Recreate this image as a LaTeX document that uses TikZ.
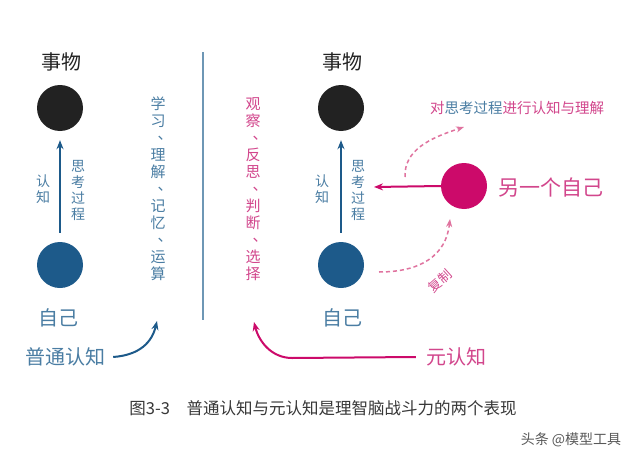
\documentclass[tikz,border=0pt]{standalone}
\usepackage{fontspec}
\setmainfont{Noto Sans CJK SC}
\usetikzlibrary{arrows.meta}
\definecolor{cblue}{HTML}{1D5A8A}
\definecolor{tblue}{HTML}{4A7DA3}
\definecolor{cpink}{HTML}{CC0A6A}
\definecolor{tpink}{HTML}{D2468C}
\definecolor{dpink}{HTML}{E0739F}
\definecolor{cblack}{HTML}{222222}
% 竖排顿号
\newcommand{\vdun}{\raisebox{4pt}{\kern7pt 、\kern-7pt}}
\begin{document}
\begin{tikzpicture}[x=1pt, y=-1pt,
    dot/.style={circle, minimum size=46pt, inner sep=0pt},
    vtext/.style={align=center, inner sep=0pt, font=\fontsize{15}{17}\selectfont},
    stext/.style={align=center, inner sep=0pt, font=\fontsize{14}{16}\selectfont},
    label/.style={inner sep=0pt, font=\fontsize{20}{22}\selectfont},
    bluearrow/.style={-{Stealth[length=9pt, width=7pt]}, line width=2pt, cblue},
    pinkarrow/.style={-{Stealth[length=9pt, width=7pt]}, line width=2pt, cpink},
    dasharrow/.style={-{Stealth[length=8pt, width=6pt]}, line width=1.5pt, dpink, dash pattern=on 4pt off 3pt}]
    \useasboundingbox[fill=white] (0,0) rectangle (640,463);

    % 普通认知
    \node[label, cblack] (thingL) at (61,62) {事物};
    \node[dot, fill=cblack] (blackL) at (60,108) {};
    \node[dot, fill=cblue] (selfL) at (60,265) {};
    \node[label, tblue] (meL) at (58,318) {自己};
    \draw[bluearrow, shorten <=9pt, shorten >=9pt] (selfL) -- (blackL);
    \node[stext, tblue] (knowL) at (43,189) {认\\知};
    \node[stext, tblue] (procL) at (78,190) {思\\考\\过\\程};
    \node[vtext, tblue] (listL) at (158,189) {学\\习\\\vdun\\理\\解\\\vdun\\记\\忆\\\vdun\\运\\算};
    \node[label, tblue] (plain) at (65,357) {普通认知};
    \coordinate (plainTip) at (157,321);
    \draw[line width=2pt, cblue, -{Stealth[length=9pt, width=7pt]}] ([xshift=8pt]plain.east) .. controls (140,355) and (152,342) .. (plainTip);

    % 分隔线
    \draw[line width=1.5pt, tblue!80] (203,52) -- (203,320);

    % 元认知
    \node[label, cblack] (thingR) at (342,62) {事物};
    \node[dot, fill=cblack] (blackR) at (341,108) {};
    \node[dot, fill=cblue] (selfR) at (341,265) {};
    \node[label, tblue] (meR) at (342,318) {自己};
    \draw[bluearrow, shorten <=9pt, shorten >=9pt] (selfR) -- (blackR);
    \node[stext, tblue] (knowR) at (322,189) {认\\知};
    \node[stext, tblue] (procR) at (358,190) {思\\考\\过\\程};
    \node[vtext, tpink] (listR) at (253,189) {观\\察\\\vdun\\反\\思\\\vdun\\判\\断\\\vdun\\选\\择};

    % 另一个自己
    \node[dot, fill=cpink] (other) at (464,186) {};
    \node[inner sep=0pt, tpink, font=\fontsize{21}{23}\selectfont, anchor=west] (otherL) at (498,188) {另一个自己};
    \coordinate (otherTip) at (374,187);
    \draw[pinkarrow] (other.west) -- (otherTip);

    % 虚线
    \coordinate (upStart) at (405,177);
    \coordinate (upTip) at (464,127);
    \draw[dasharrow] (upStart) .. controls (404,150) and (430,138) .. (upTip);
    \node[inner sep=0pt, font=\fontsize{14.5}{16}\selectfont, anchor=west] (meta) at (430,108) {\textcolor{tpink}{对}\textcolor{tblue}{思考过程}\textcolor{tpink}{进行认知与理解}};
    \coordinate (copyStart) at (379,272);
    \coordinate (copyTip) at (450,219);
    \draw[dasharrow] (copyStart) .. controls (420,272) and (446,256) .. (copyTip);
    \node[inner sep=0pt, tpink, rotate=42, font=\fontsize{13}{15}\selectfont] (copy) at (440,281) {复制};

    % 元认知箭头
    \node[label, tpink] (metaL) at (456,357) {元认知};
    \coordinate (metaTip) at (254,322);
    \draw[line width=2pt, cpink, -{Stealth[length=9pt, width=7pt]}] ([xshift=-10pt]metaL.west) -- (292,358) .. controls (272,358) and (259,342) .. (metaTip);

    % 图注
    \node[inner sep=0pt, cblack!90, font=\fontsize{16.5}{18}\selectfont] (caption) at (323,408) {图3-3\quad 普通认知与元认知是理智脑战斗力的两个表现};
    \node[inner sep=0pt, black!65, font=\fontsize{14}{16}\selectfont] (mark) at (571,440) {头条 @模型工具};
\end{tikzpicture}
\end{document}
